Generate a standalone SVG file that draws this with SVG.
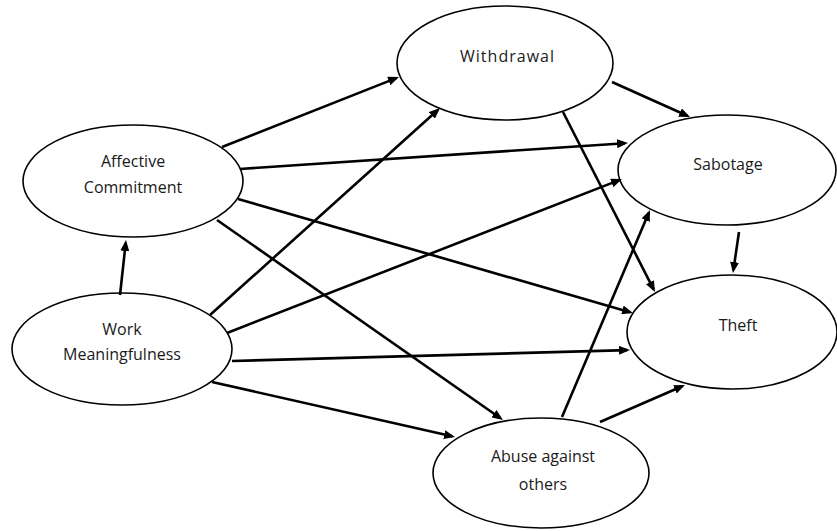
<svg xmlns="http://www.w3.org/2000/svg" width="837" height="531" viewBox="0 0 837 531">
<style>
.node ellipse{fill:#fff;stroke:#000;stroke-width:1.6}
.node text{font-family:"Open Sans","Liberation Sans",sans-serif;font-size:16px;fill:#1a1a1a;text-anchor:middle}
.edges line{stroke:#000;stroke-width:2.6;marker-end:url(#arr)}
</style>
<defs>
<marker id="arr" viewBox="0 0 11 9" refX="8" refY="4.5" markerWidth="11" markerHeight="9" markerUnits="userSpaceOnUse" orient="auto">
<path d="M0,0 L11,4.5 L0,9 z" fill="#000"/>
</marker>
</defs>
<rect width="837" height="531" fill="#fff"/>
<g id="affective" class="node">
<ellipse cx="133" cy="181" rx="110" ry="56"/>
<text x="133" y="167">Affective</text>
<text x="133" y="193">Commitment</text>
</g>
<g id="work" class="node">
<ellipse cx="122" cy="349" rx="110" ry="56"/>
<text x="122" y="335">Work</text>
<text x="122" y="360">Meaningfulness</text>
</g>
<g id="withdrawal" class="node">
<ellipse cx="505" cy="63" rx="108" ry="57"/>
<text x="507" y="62" textLength="94">Withdrawal</text>
</g>
<g id="sabotage" class="node">
<ellipse cx="727" cy="170" rx="109" ry="55"/>
<text x="728" y="170">Sabotage</text>
</g>
<g id="theft" class="node">
<ellipse cx="732" cy="332" rx="105" ry="57"/>
<text x="738" y="331">Theft</text>
</g>
<g id="abuse" class="node">
<ellipse cx="541" cy="473" rx="108" ry="55"/>
<text x="543" y="462">Abuse against</text>
<text x="543" y="490">others</text>
</g>
<g id="connectors" class="edges">
<line x1="222" y1="147" x2="396.2" y2="78.1"/>
<line x1="240" y1="169" x2="625" y2="143.2"/>
<line x1="238" y1="199" x2="630.1" y2="312.2"/>
<line x1="217" y1="220" x2="500.5" y2="418.3"/>
<line x1="120" y1="295" x2="125.7" y2="243"/>
<line x1="210" y1="315" x2="437.8" y2="110"/>
<line x1="227" y1="333" x2="619.2" y2="180.1"/>
<line x1="232" y1="361" x2="627" y2="350.1"/>
<line x1="212" y1="382" x2="452.1" y2="436.3"/>
<line x1="612" y1="82" x2="687.3" y2="115.8"/>
<line x1="563" y1="112" x2="653.6" y2="289.3"/>
<line x1="739" y1="232" x2="733.4" y2="270"/>
<line x1="562" y1="417" x2="648.8" y2="212.8"/>
<line x1="600" y1="422" x2="682.2" y2="386.2"/>
</g>
</svg>
